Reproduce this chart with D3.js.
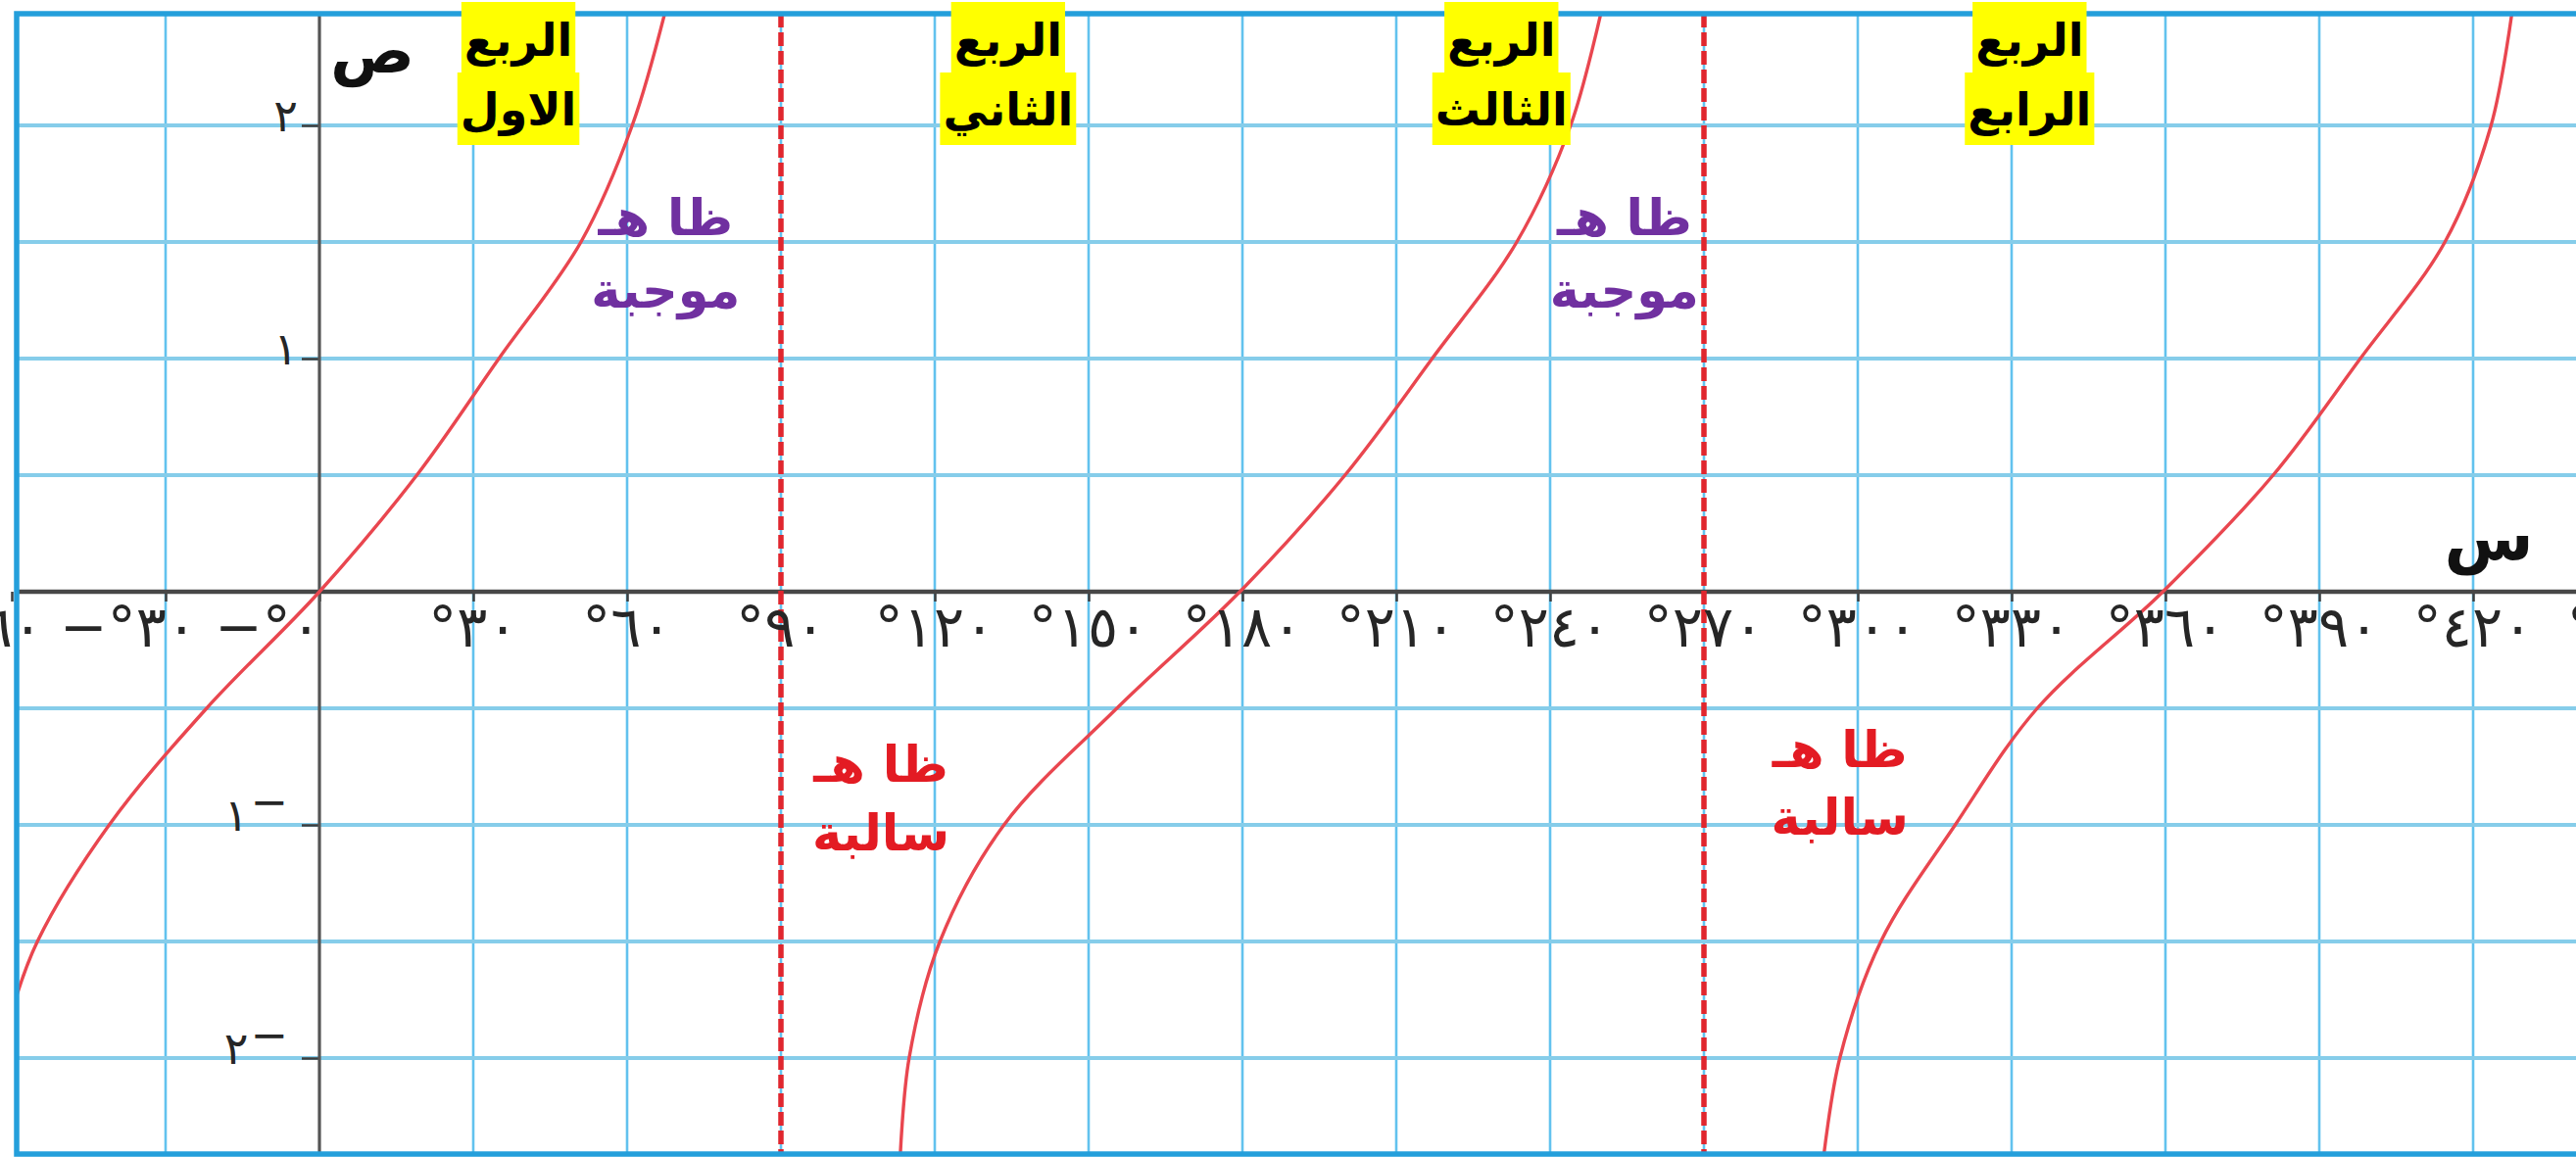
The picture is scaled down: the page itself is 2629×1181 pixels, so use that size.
<!DOCTYPE html>
<html>
<head>
<meta charset="utf-8">
<script src="https://cdn.jsdelivr.net/npm/d3@7"></script>
<style>
  html, body { margin: 0; padding: 0; background: #ffffff; }
  svg { display: block; }
  text { font-family: "DejaVu Sans", sans-serif; }
</style>
</head>
<body>
<svg id="chart" width="2629" height="1181"></svg>
<script>
// ---- data ----------------------------------------------------------
// x axis ticks (degrees) and their printed labels
const xTickValues = [-60, -30, 0, 30, 60, 90, 120, 150, 180, 210, 240, 270, 300, 330, 360, 390, 420, 450];
const xTickLabels = ["−°٦٠", "−°٣٠", "−°٠", "°٣٠", "°٦٠", "°٩٠", "°١٢٠", "°١٥٠", "°١٨٠", "°٢١٠",
                     "°٢٤٠", "°٢٧٠", "°٣٠٠", "°٣٣٠", "°٣٦٠", "°٣٩٠", "°٤٢٠", "°٤٥٠"];
// y axis ticks and label digits
const yTickValues = [2, 1, -1, -2];
const yTickDigits = ["٢", "١", "١", "٢"];
// grid
const gridXValues = [-30, 30, 60, 90, 120, 150, 180, 210, 240, 270, 300, 330, 360, 390, 420];
const gridYValues = [-2, -1.5, -1, -0.5, 0.5, 1, 1.5, 2];
// vertical asymptotes of tan (degrees)
const asymptotes = [90, 270];
// tangent branches: [angle in degrees, value]
const branch1 = [[-60, -1.8], [-55, -1.5], [-41, -1], [-22, -0.5], [0, 0], [19, 0.5],
                 [35, 1], [51, 1.5], [61, 2], [67.8, 2.52]];
const branch2 = [[113.2, -2.45], [115, -2], [121, -1.5], [133.5, -1], [155.5, -0.5],
                 [179.5, 0], [200, 0.5], [217, 1], [233.5, 1.5], [244, 2], [250.3, 2.52]];
const branch3 = [[293.2, -2.45], [296.5, -2], [304.5, -1.5], [319, -1], [335, -0.5],
                 [359.5, 0], [381, 0.5], [398, 1], [414.5, 1.5], [423.5, 2], [427.8, 2.52]];
// quadrant captions and sign notes
const quadrantNames = [["الربع", "الاول"], ["الربع", "الثاني"], ["الربع", "الثالث"], ["الربع", "الرابع"]];
const signNotes = [["ظا هـ", "موجبة"], ["ظا هـ", "سالبة"], ["ظا هـ", "موجبة"], ["ظا هـ", "سالبة"]];
const axisNames = { x: "س", y: "ص" };

// ---- layout --------------------------------------------------------
const W = 2629, H = 1181;
const frame = { left: 17, top: 14, right: W + 10, bottom: 1178 };

const x = d3.scaleLinear().domain([0, 420]).range([326, 2524]);
const y = d3.scaleLinear().domain([-2, 2]).range([1080, 128]);

const svg = d3.select("#chart");
svg.append("rect").attr("width", W).attr("height", H).attr("fill", "#ffffff");

svg.append("defs").append("clipPath").attr("id", "plotClip")
  .append("rect")
  .attr("x", frame.left).attr("y", frame.top)
  .attr("width", frame.right - frame.left).attr("height", frame.bottom - frame.top);

// grid
const grid = svg.append("g");
grid.selectAll("line.gx").data(gridXValues).join("line")
  .attr("class", "gx")
  .attr("x1", d => x(d)).attr("x2", d => x(d))
  .attr("y1", frame.top).attr("y2", frame.bottom)
  .attr("stroke", "#62c2ee").attr("stroke-width", 2.6);
grid.selectAll("line.gy").data(gridYValues).join("line")
  .attr("class", "gy")
  .attr("x1", frame.left).attr("x2", W)
  .attr("y1", d => y(d)).attr("y2", d => y(d))
  .attr("stroke", "#86cdea").attr("stroke-width", 4.2);

// x axis
const xAxis = d3.axisBottom(x).tickValues(xTickValues).tickSize(10).tickFormat("");
const gx = svg.append("g").attr("transform", `translate(0,${y(0)})`).call(xAxis);
gx.select(".domain").remove();
gx.selectAll(".tick line").attr("stroke", "#3d3d3d").attr("stroke-width", 2.5);
svg.append("line")
  .attr("x1", frame.left).attr("x2", W)
  .attr("y1", y(0)).attr("y2", y(0))
  .attr("stroke", "#474747").attr("stroke-width", 4.5);

// y axis
const yAxis = d3.axisLeft(y).tickValues(yTickValues).tickSize(18).tickFormat("");
const gyA = svg.append("g").attr("transform", `translate(${x(0)},0)`).call(yAxis);
gyA.select(".domain").remove();
gyA.selectAll(".tick line").attr("stroke", "#3d3d3d").attr("stroke-width", 2.5);
svg.append("line")
  .attr("x1", x(0)).attr("x2", x(0))
  .attr("y1", frame.top).attr("y2", frame.bottom)
  .attr("stroke", "#555555").attr("stroke-width", 3.2);

// asymptotes
svg.selectAll("line.asym").data(asymptotes).join("line")
  .attr("class", "asym")
  .attr("x1", d => x(d)).attr("x2", d => x(d))
  .attr("y1", frame.top).attr("y2", frame.bottom)
  .attr("stroke", "#e0262e").attr("stroke-width", 5.5)
  .attr("stroke-dasharray", "14 5");

// tangent curve branches
const line = d3.line().x(d => x(d[0])).y(d => y(d[1])).curve(d3.curveCatmullRom.alpha(0.5));
svg.append("g").attr("clip-path", "url(#plotClip)")
  .selectAll("path").data([branch1, branch2, branch3]).join("path")
  .attr("d", line)
  .attr("fill", "none")
  .attr("stroke", "#e9464f").attr("stroke-width", 3.4);

// frame (left, top, bottom)
svg.append("path")
  .attr("d", `M${W + 5},${frame.top}H${frame.left}V${frame.bottom}H${W + 5}`)
  .attr("fill", "none").attr("stroke", "#249fdb").attr("stroke-width", 5.5);

// x tick labels
const bidi = "direction:ltr;unicode-bidi:bidi-override";
svg.append("g").selectAll("text").data(xTickValues).join("text")
  .attr("x", d => d > 0 ? x(d) : (d < 0 ? x(d) + 32 : x(d) + 2))
  .attr("y", 660)
  .attr("text-anchor", d => d > 0 ? "middle" : "end")
  .attr("style", bidi)
  .attr("font-size", 58)
  .attr("letter-spacing", 3)
  .attr("fill", "#262626")
  .text((d, i) => xTickLabels[i]);

// y tick labels (negatives carry a raised minus after the digit)
const yl = svg.append("g").selectAll("text").data(yTickValues).join("text")
  .attr("x", d => d > 0 ? x(0) - 22 : x(0) - 32)
  .attr("y", d => y(d) + 6)
  .attr("text-anchor", "end")
  .attr("style", bidi)
  .attr("font-size", 46)
  .attr("fill", "#262626");
yl.append("tspan").text((d, i) => yTickDigits[i]);
yl.filter(d => d < 0).append("tspan").attr("dx", 2).attr("dy", -14).text("−");

// axis names
svg.append("text")
  .attr("x", x(0) + 54).attr("y", 74)
  .attr("text-anchor", "middle")
  .attr("font-size", 64).attr("font-weight", "bold").attr("fill", "#111")
  .text(axisNames.y);
svg.append("text")
  .attr("x", 2540).attr("y", 572)
  .attr("text-anchor", "middle")
  .attr("font-size", 66).attr("font-weight", "bold").attr("fill", "#111")
  .text(axisNames.x);

// sign notes
const notePlaces = [
  { at: 67.5, y1: 240, y2: 314, color: "#7030a0" },
  { at: 109.5, y1: 798, y2: 868, color: "#e31b23" },
  { at: 254.5, y1: 240, y2: 314, color: "#7030a0" },
  { at: 296.5, y1: 783, y2: 852, color: "#e31b23" }
];
signNotes.forEach((lines, i) => {
  const p = notePlaces[i];
  const t = svg.append("g");
  [p.y1, p.y2].forEach((yy, k) => {
    t.append("text").attr("x", x(p.at)).attr("y", yy)
      .attr("text-anchor", "middle").attr("font-size", 51).attr("font-weight", "bold")
      .attr("fill", p.color).text(lines[k]);
  });
});

// quadrant captions on yellow highlight
const captionCenters = [38.8, 134.3, 230.5, 333.5];
const bands = [[2, 74], [74, 148]];
const baselines = [57, 128];
quadrantNames.forEach((lines, i) => {
  const g = svg.append("g");
  const texts = lines.map((s, k) => g.append("text")
    .attr("x", x(captionCenters[i])).attr("y", baselines[k])
    .attr("text-anchor", "middle").attr("font-size", 46).attr("font-weight", "bold")
    .attr("fill", "#000").text(s));
  texts.forEach((t, k) => {
    const b = t.node().getBBox();
    g.insert("rect", "text")
      .attr("x", b.x - 3).attr("width", b.width + 6)
      .attr("y", bands[k][0]).attr("height", bands[k][1] - bands[k][0])
      .attr("fill", "#ffff00");
  });
});
</script>
</body>
</html>
